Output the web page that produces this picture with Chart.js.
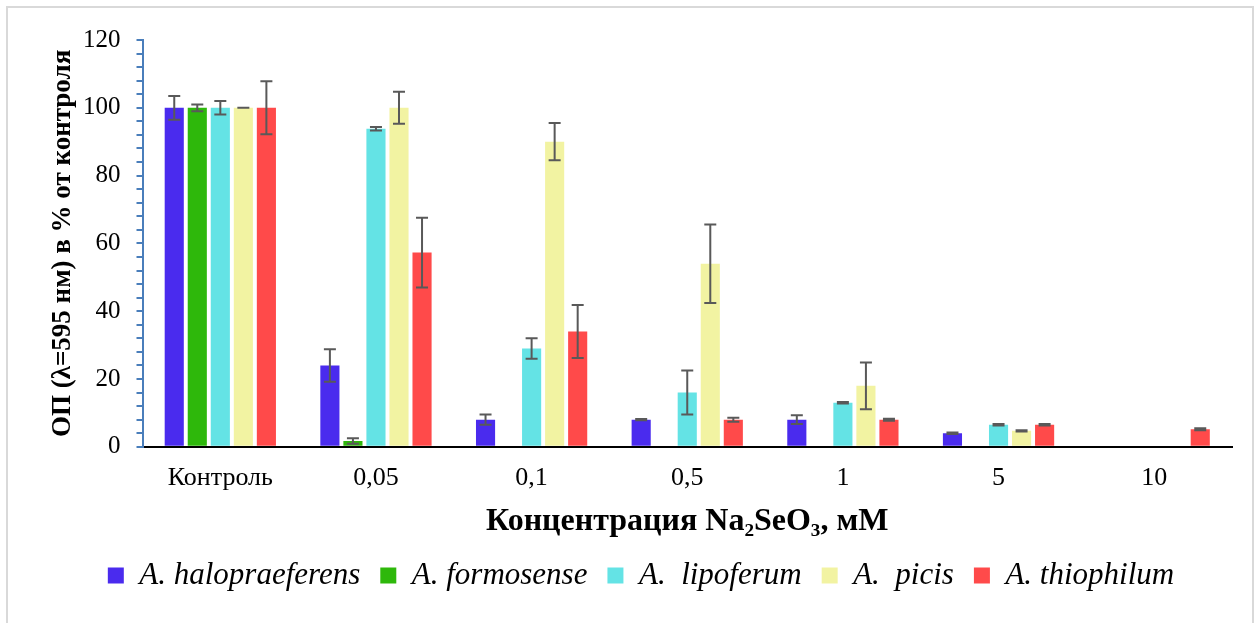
<!DOCTYPE html>
<html>
<head>
<meta charset="utf-8">
<script src="https://cdn.jsdelivr.net/npm/chart.js@4"></script>
<style>
    body { margin: 0; background: #fff; }
    #wrap { position: relative; width: 1260px; height: 623px; overflow: hidden; }
    #frame { position: absolute; left: 6px; top: 6px; width: 1248px; height: 640px; border: 2px solid #d9d9d9; box-sizing: border-box; }
    #chartBox { position: absolute; left: 0; top: 0; width: 1260px; height: 623px; }
</style>
</head>
<body>
<div id="wrap">
    <div id="frame"></div>
    <div id="chartBox"><canvas id="seChart"></canvas></div>
</div>
<script>
const categories = ['Контроль', '0,05', '0,1', '0,5', '1', '5', '10'];

const halopraeferens = [100, 24, 8, 8, 8, 4, 0];
const halopraeferensErr = [3.5, 4.8, 1.5, 0.2, 1.3, 0.2, 0];
const formosense = [100, 1.7, 0, 0, 0, 0, 0];
const formosenseErr = [1, 0.8, 0, 0, 0, 0, 0];
const lipoferum = [100, 93.8, 29, 16, 13, 6.5, 0];
const lipoferumErr = [2, 0.5, 3, 6.5, 0.2, 0.2, 0];
const picis = [100, 100, 90, 54, 18, 4.7, 0];
const picisErr = [0, 4.7, 5.5, 11.6, 6.9, 0.2, 0];
const thiophilum = [100, 57.3, 34, 8, 8, 6.5, 5.2];
const thiophilumErr = [7.8, 10.3, 7.8, 0.6, 0.3, 0.2, 0.3];

const serif = "'Liberation Serif', 'Times New Roman', serif";

// error bars drawn through the y scale
const errorBars = {
    id: 'errorBars',
    afterDatasetsDraw(chart) {
        const ctx = chart.ctx;
        const y = chart.scales.y;
        ctx.save();
        ctx.strokeStyle = '#595959';
        ctx.lineWidth = 2;
        chart.data.datasets.forEach((ds, i) => {
            const meta = chart.getDatasetMeta(i);
            meta.data.forEach((bar, j) => {
                const v = ds.data[j];
                const e = ds.errors[j];
                if (!v) return;
                const top = y.getPixelForValue(v + e);
                const bot = y.getPixelForValue(v - e);
                const cap = 6;
                ctx.beginPath();
                ctx.moveTo(bar.x, top);
                ctx.lineTo(bar.x, bot);
                ctx.moveTo(bar.x - cap, top);
                ctx.lineTo(bar.x + cap, top);
                ctx.moveTo(bar.x - cap, bot);
                ctx.lineTo(bar.x + cap, bot);
                ctx.stroke();
            });
        });
        ctx.restore();
    }
};

new Chart(document.getElementById('seChart'), {
    type: 'bar',
    data: {
        labels: categories,
        datasets: [
            { label: 'A. halopraeferens', data: halopraeferens, errors: halopraeferensErr, backgroundColor: '#4a2bee' },
            { label: 'A. formosense', data: formosense, errors: formosenseErr, backgroundColor: '#2eb80b' },
            { label: 'A.  lipoferum', data: lipoferum, errors: lipoferumErr, backgroundColor: '#64e3e5' },
            { label: 'A.  picis', data: picis, errors: picisErr, backgroundColor: '#f2f3a2' },
            { label: 'A. thiophilum', data: thiophilum, errors: thiophilumErr, backgroundColor: '#ff4a4a' }
        ]
    },
    options: {
        responsive: true,
        maintainAspectRatio: false,
        animation: false,
        datasets: {
            bar: { categoryPercentage: 0.74, barPercentage: 0.83 }
        },
        layout: { padding: { left: 50, right: 28, top: 40, bottom: 22 } },
        plugins: {
            legend: {
                position: 'bottom',
                labels: {
                    boxWidth: 16,
                    boxHeight: 16,
                    padding: 20,
                    color: '#000',
                    font: { family: serif, size: 31, style: 'italic' }
                }
            },
            tooltip: { enabled: false }
        },
        scales: {
            x: {
                grid: { display: false, drawTicks: true, tickLength: 16 },
                border: { display: true, color: '#000', width: 2 },
                ticks: { color: '#000', padding: 0, font: { family: serif, size: 26 } },
                title: {
                    display: true,
                    text: 'Концентрация Na₂SeO₃, мМ',
                    color: '#000',
                    padding: { top: 12, bottom: 2 },
                    font: { family: serif, size: 32, weight: 'bold', lineHeight: 1 }
                }
            },
            y: {
                min: 0,
                max: 120,
                afterFit: (scale) => { scale.width -= 10; },
                grid: { drawOnChartArea: false, drawTicks: true, tickLength: 6, color: '#4a7ebb', lineWidth: 2 },
                border: { display: true, color: '#4a7ebb', width: 2 },
                ticks: {
                    stepSize: 4,
                    autoSkip: false,
                    color: '#000',
                    padding: 16,
                    font: { family: serif, size: 25 },
                    callback: (v) => (v % 20 === 0 ? v : '')
                },
                title: {
                    display: true,
                    text: 'ОП (λ=595 нм) в % от контроля',
                    color: '#000',
                    padding: 0,
                    font: { family: serif, size: 27, weight: 'bold', lineHeight: 1 }
                }
            }
        }
    },
    plugins: [errorBars]
});
</script>
</body>
</html>
